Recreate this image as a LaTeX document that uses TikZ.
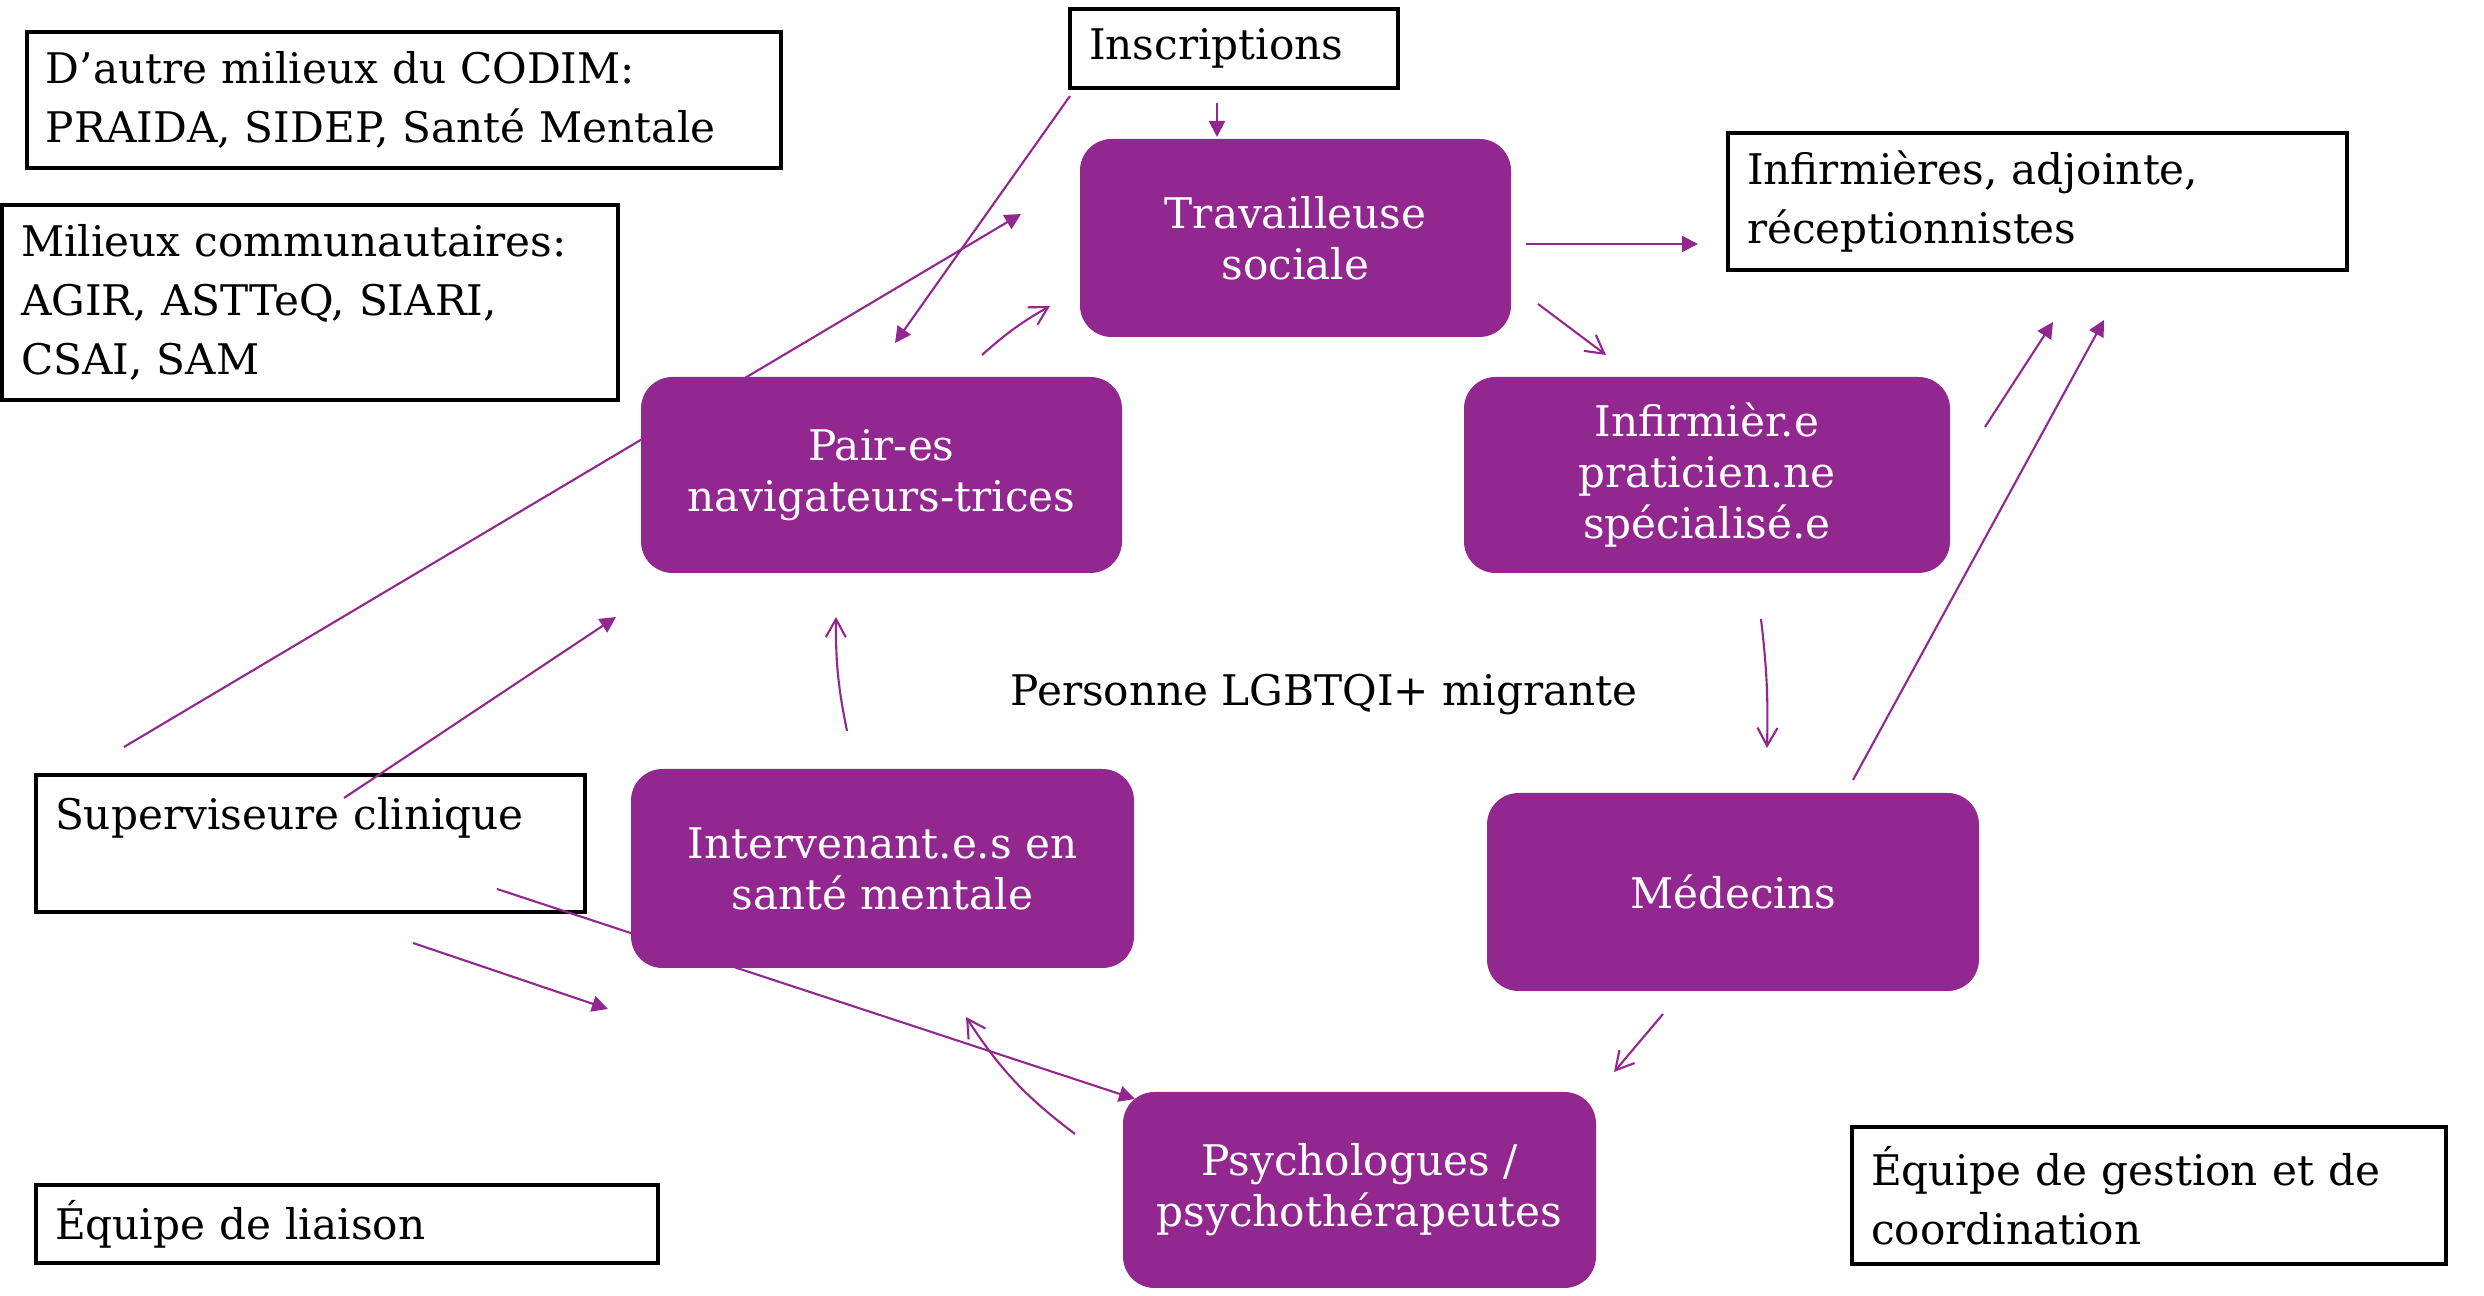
\documentclass[tikz,border=0pt]{standalone}
\usepackage{fontspec}
\setmainfont{DejaVu Serif}
\usepackage{xcolor}
\usepackage{tikz}
\usetikzlibrary{arrows.meta,positioning,calc}
\definecolor{prp}{HTML}{92278F}

\begin{document}
\begin{tikzpicture}[
  pb/.style={rectangle,rounded corners=9pt,fill=prp,text=white,align=center,
    font=\fontsize{12}{14.5}\selectfont},
  bx/.style={rectangle,draw=black,line width=0.9pt,align=left,inner xsep=0.19cm,
    inner ysep=2pt,font=\fontsize{12}{16.8}\selectfont},
  ar/.style={prp,line width=0.6pt,-{Triangle[length=1.6mm,width=1.6mm]}},
  oa/.style={prp,line width=0.6pt,-{Straight Barb[length=1.8mm,width=2mm]}}
]
\useasboundingbox (0,0) rectangle (24.84,12.96);
%--- outer boxes ---
\node[bx,minimum width=7.54cm,minimum height=1.36cm,text width=7.16cm] (codim) at (4.04,11.96)
  {D’autre milieux du CODIM:\\PRAIDA, SIDEP, Santé Mentale};
\node[bx,minimum width=3.28cm,minimum height=0.79cm,text width=2.90cm] (inscr) at (12.34,12.475)
  {Inscriptions};
\node[bx,minimum width=6.16cm,minimum height=1.95cm,text width=5.78cm] (commu) at (3.10,9.935)
  {Milieux communautaires:\\AGIR, ASTTeQ, SIARI,\\CSAI, SAM};
\node[bx,minimum width=6.19cm,minimum height=1.37cm,text width=5.81cm] (infs) at (20.375,10.945)
  {Infirmières, adjointe,\\réceptionnistes};
\node[bx,minimum width=5.49cm,minimum height=1.37cm,text width=5.11cm] (sup) at (3.105,4.525)
  {Superviseure clinique\\\mbox{}};
\node[bx,minimum width=6.22cm,minimum height=0.78cm,text width=5.84cm] (liais) at (3.47,0.72)
  {Équipe de liaison};
\node[bx,minimum width=5.94cm,minimum height=1.37cm,text width=5.56cm] (gest) at (21.49,1.005)
  {Équipe de gestion et de\\coordination};
%--- care team ---
\node[pb,minimum width=4.31cm,minimum height=1.98cm] (ts) at (12.955,10.58) {Travailleuse\\sociale};
\node[pb,minimum width=4.81cm,minimum height=1.96cm] (pair) at (8.815,8.21) {Pair-es\\navigateurs-trices};
\node[pb,minimum width=4.86cm,minimum height=1.96cm] (ipn) at (17.07,8.21) {Infirmièr.e\\praticien.ne\\spécialisé.e};
\node[pb,minimum width=5.03cm,minimum height=1.99cm] (interv) at (8.825,4.275) {Intervenant.e.s en\\santé mentale};
\node[pb,minimum width=4.92cm,minimum height=1.98cm] (med) at (17.33,4.04) {Médecins};
\node[pb,minimum width=4.73cm,minimum height=1.96cm] (psy) at (13.595,1.06) {Psychologues /\\psychothérapeutes};
\node[font=\fontsize{12}{14.5}\selectfont,anchor=base] (pers) at (13.24,5.90) {Personne LGBTQI+ migrante};
%--- arrow ends ---
\coordinate (insA) at (12.17,11.93); \coordinate (tsA) at (12.17,11.59);
\coordinate (insB) at (10.70,12.00); \coordinate (pairA) at (8.95,9.53);
\coordinate (supA) at (1.24,5.49);   \coordinate (tsB) at (10.21,10.82);
\coordinate (pairB) at (9.82,9.41);  \coordinate (tsC) at (10.50,9.90);
\coordinate (tsD) at (15.26,10.52);  \coordinate (infsA) at (16.98,10.52);
\coordinate (tsE) at (15.38,9.92);   \coordinate (ipnA) at (16.06,9.41);
\coordinate (ipnB) at (19.85,8.69);  \coordinate (infsB) at (20.53,9.74);
\coordinate (medA) at (18.53,5.16);  \coordinate (infsC) at (21.04,9.76);
\coordinate (ipnC) at (17.61,6.77);  \coordinate (medB) at (17.67,5.48);
\coordinate (medC) at (16.63,2.82);  \coordinate (psyA) at (16.14,2.24);
\coordinate (psyB) at (10.75,1.62);  \coordinate (intA) at (9.66,2.79);
\coordinate (intB) at (8.47,5.65);   \coordinate (pairC) at (8.36,6.79);
\coordinate (supB) at (3.44,4.98);   \coordinate (pairD) at (6.16,6.79);
\coordinate (supC) at (4.13,3.53);   \coordinate (intC) at (6.08,2.87);
\coordinate (supD) at (4.97,4.07);   \coordinate (psyC) at (11.35,1.97);
%--- links ---
\draw[ar](insA)--(tsA); \draw[ar](insB)--(pairA);
\draw[ar](supA)--(tsB); \draw[oa](pairB) to[bend left=6] (tsC);
\draw[ar](tsD)--(infsA); \draw[oa](tsE)--(ipnA);
\draw[ar](ipnB)--(infsB); \draw[ar](medA)--(infsC);
\draw[oa](ipnC) to[bend left=4] (medB); \draw[oa](medC)--(psyA);
\draw[oa](psyB) to[bend left=10] (intA); \draw[oa](intB) to[bend left=6] (pairC);
\draw[ar](supB)--(pairD); \draw[ar](supC)--(intC);
\draw[ar](supD)--(psyC);
\end{tikzpicture}
\end{document}
